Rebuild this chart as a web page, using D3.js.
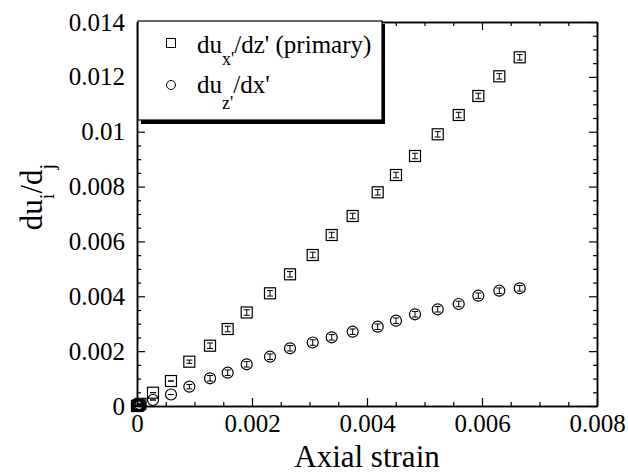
<!DOCTYPE html>
<html>
<head>
<meta charset="utf-8">
<script src="https://cdn.jsdelivr.net/npm/d3@7"></script>
<style>
body { margin: 0; background: #fff; }
svg { display: block; }
</style>
</head>
<body>
<svg id="mainSvg" width="628" height="473"></svg>
<script>
// values
var strain = [0, 0.00001, 0.00003, 0.00006, 0.000278, 0.000591, 0.00091, 0.00127, 0.001577, 0.001908,
	0.002313, 0.002661, 0.003056, 0.003386, 0.003751, 0.004186, 0.004504, 0.004835, 0.00523,
	0.005595, 0.005936, 0.006301, 0.006656];
var primary = [0, 0.00001, 0.00003, 0.00008, 0.000485, 0.000911, 0.001615, 0.002198, 0.002807, 0.003409,
	0.004109, 0.004802, 0.005505, 0.006234, 0.006927, 0.007791, 0.008422, 0.009115, 0.009906,
	0.010609, 0.011302, 0.01202, 0.012713];
var primaryErr = [0, 0, 0, 0, 0, 0, 0.00006, 0.0001, 0.0001, 0.0001,
	0.0001, 0.0001, 0.0001, 0.0001, 0.0001, 0.0001, 0.0001, 0.0001, 0.0001,
	0.0001, 0.0001, 0.0001, 0.0001];
var secondary = [0, 0.00001, 0.00002, 0.00004, 0.000219, 0.000419, 0.000704, 0.00101, 0.001214, 0.00152,
	0.001797, 0.002104, 0.002315, 0.002505, 0.002709, 0.002891, 0.00311, 0.003343, 0.003526,
	0.003719, 0.004021, 0.004204, 0.004291];
var secondaryErr = [0, 0, 0, 0, 0, 0, 0.00008, 0.0001, 0.0001, 0.0001,
	0.0001, 0.0001, 0.0001, 0.0001, 0.0001, 0.0001, 0.0001, 0.0001, 0.0001,
	0.0001, 0.0001, 0.0001, 0.0001];

var xTicks = [0, 0.002, 0.004, 0.006, 0.008];
var xTickLabels = ["0", "0.002", "0.004", "0.006", "0.008"];
var yTicks = [0, 0.002, 0.004, 0.006, 0.008, 0.01, 0.012, 0.014];
var yTickLabels = ["0", "0.002", "0.004", "0.006", "0.008", "0.01", "0.012", "0.014"];

var serifFont = "'Liberation Serif', 'Times New Roman', serif";

var margin = {left: 137, top: 22, right: 31, bottom: 67};
var width = 628 - margin.left - margin.right;
var height = 473 - margin.top - margin.bottom;

var mainSvg = d3.select("#mainSvg");
var g = mainSvg.append("g").attr("transform", "translate(" + margin.left + "," + margin.top + ")");

var x = d3.scaleLinear().domain([0, 0.008]).range([0, width]);
var y = d3.scaleLinear().domain([0, 0.014]).range([height, 0]);

var xMinor = d3.range(0, 0.00801, 0.0005).filter(function(v) { return Math.abs(v / 0.002 - Math.round(v / 0.002)) > 1e-6; });
var yMinor = d3.range(0, 0.01401, 0.0005).filter(function(v) { return Math.abs(v / 0.002 - Math.round(v / 0.002)) > 1e-6; });

function fmt(ticks, labels) {
	return function(d) {
		var i = ticks.indexOf(d);
		return i < 0 ? "" : labels[i];
	};
}

function styleAxis(sel) {
	sel.attr("font-family", null);
	sel.select(".domain").attr("stroke", "#000").attr("stroke-width", 1.5);
	sel.selectAll(".tick line").attr("stroke", "#000").attr("stroke-width", 1.2);
	sel.selectAll("text").style("font-size", "25px").style("font-family", serifFont).attr("fill", "#000");
}

// major + minor ticks on all four sides, pointing inward
g.append("g").attr("transform", "translate(0," + height + ")")
	.call(d3.axisBottom(x).tickValues(xTicks).tickFormat(fmt(xTicks, xTickLabels)).tickSize(-8).tickPadding(8).tickSizeOuter(0))
	.call(styleAxis);
g.append("g").attr("transform", "translate(0," + height + ")")
	.call(d3.axisBottom(x).tickValues(xMinor).tickFormat("").tickSize(-4).tickSizeOuter(0))
	.call(styleAxis);
g.append("g")
	.call(d3.axisTop(x).tickValues(xTicks).tickFormat("").tickSize(-8).tickSizeOuter(0))
	.call(styleAxis);
g.append("g")
	.call(d3.axisTop(x).tickValues(xMinor).tickFormat("").tickSize(-4).tickSizeOuter(0))
	.call(styleAxis);
g.append("g")
	.call(d3.axisLeft(y).tickValues(yTicks).tickFormat(fmt(yTicks, yTickLabels)).tickSize(-8).tickPadding(12).tickSizeOuter(0))
	.call(styleAxis);
g.append("g")
	.call(d3.axisLeft(y).tickValues(yMinor).tickFormat("").tickSize(-4).tickSizeOuter(0))
	.call(styleAxis);
g.append("g").attr("transform", "translate(" + width + ",0)")
	.call(d3.axisRight(y).tickValues(yTicks).tickFormat("").tickSize(-8).tickSizeOuter(0))
	.call(styleAxis);
g.append("g").attr("transform", "translate(" + width + ",0)")
	.call(d3.axisRight(y).tickValues(yMinor).tickFormat("").tickSize(-4).tickSizeOuter(0))
	.call(styleAxis);

// points
var data1 = strain.map(function(s, i) { return {x: s, y: primary[i], e: primaryErr[i]}; });
var data2 = strain.map(function(s, i) { return {x: s, y: secondary[i], e: secondaryErr[i]}; });

function errorBars(sel, data) {
	var eb = sel.selectAll(null).data(data).enter().append("g")
		.attr("transform", function(d) { return "translate(" + x(d.x) + "," + y(d.y) + ")"; });
	eb.append("line").attr("x1", 0).attr("x2", 0)
		.attr("y1", function(d) { return y(d.y + d.e) - y(d.y); })
		.attr("y2", function(d) { return y(d.y - d.e) - y(d.y); })
		.attr("stroke", "#000").attr("stroke-width", 1);
	eb.append("line").attr("x1", -3).attr("x2", 3)
		.attr("y1", function(d) { return y(d.y + d.e) - y(d.y); })
		.attr("y2", function(d) { return y(d.y + d.e) - y(d.y); })
		.attr("stroke", "#000").attr("stroke-width", 1);
	eb.append("line").attr("x1", -3).attr("x2", 3)
		.attr("y1", function(d) { return y(d.y - d.e) - y(d.y); })
		.attr("y2", function(d) { return y(d.y - d.e) - y(d.y); })
		.attr("stroke", "#000").attr("stroke-width", 1);
}

var pts = g.append("g");
pts.selectAll("rect.sq").data(data1).enter().append("rect").attr("class", "sq")
	.attr("x", function(d) { return x(d.x) - 5.5; })
	.attr("y", function(d) { return y(d.y) - 5.5; })
	.attr("width", 11).attr("height", 11)
	.attr("fill", "none").attr("stroke", "#000").attr("stroke-width", 1.2);
errorBars(pts, data1);
pts.selectAll("circle.ci").data(data2).enter().append("circle").attr("class", "ci")
	.attr("cx", function(d) { return x(d.x); })
	.attr("cy", function(d) { return y(d.y); })
	.attr("r", 5.5)
	.attr("fill", "none").attr("stroke", "#000").attr("stroke-width", 1.2);
errorBars(pts, data2);

// legend with shadow
var lg = mainSvg.append("g");
lg.append("rect").attr("x", 141).attr("y", 24).attr("width", 244).attr("height", 100).attr("fill", "#000");
lg.append("rect").attr("x", 138).attr("y", 21).attr("width", 244).attr("height", 99)
	.attr("fill", "#fff").attr("stroke", "#000").attr("stroke-width", 1.2);
lg.append("rect").attr("x", 166.5).attr("y", 38.5).attr("width", 9).attr("height", 9)
	.attr("fill", "none").attr("stroke", "#000").attr("stroke-width", 1);
lg.append("circle").attr("cx", 171).attr("cy", 85).attr("r", 4.5)
	.attr("fill", "none").attr("stroke", "#000").attr("stroke-width", 1);

var t1 = lg.append("text").attr("x", 197).attr("y", 53).style("font-family", serifFont).style("font-size", "25px");
t1.append("tspan").text("du");
t1.append("tspan").attr("dy", 12).style("font-size", "18px").text("x'");
t1.append("tspan").attr("dy", -12).text("/dz' (primary)");
var t2 = lg.append("text").attr("x", 197).attr("y", 93).style("font-family", serifFont).style("font-size", "25px");
t2.append("tspan").text("du");
t2.append("tspan").attr("dy", 16).style("font-size", "18px").text("z'");
t2.append("tspan").attr("dy", -16).text("/dx'");

// axis titles
mainSvg.append("text").attr("x", margin.left + width / 2 - 0).attr("y", 467)
	.attr("text-anchor", "middle").style("font-family", serifFont).style("font-size", "31px").text("Axial strain");
var yt = mainSvg.append("text").attr("transform", "translate(42,197) rotate(-90)")
	.attr("text-anchor", "middle").style("font-family", serifFont).style("font-size", "31px");
yt.append("tspan").text("du");
yt.append("tspan").attr("dy", 12).style("font-size", "20px").text("i");
yt.append("tspan").attr("dy", -12).text("/d");
yt.append("tspan").attr("dy", 12).style("font-size", "20px").text("j");
</script>
</body>
</html>
